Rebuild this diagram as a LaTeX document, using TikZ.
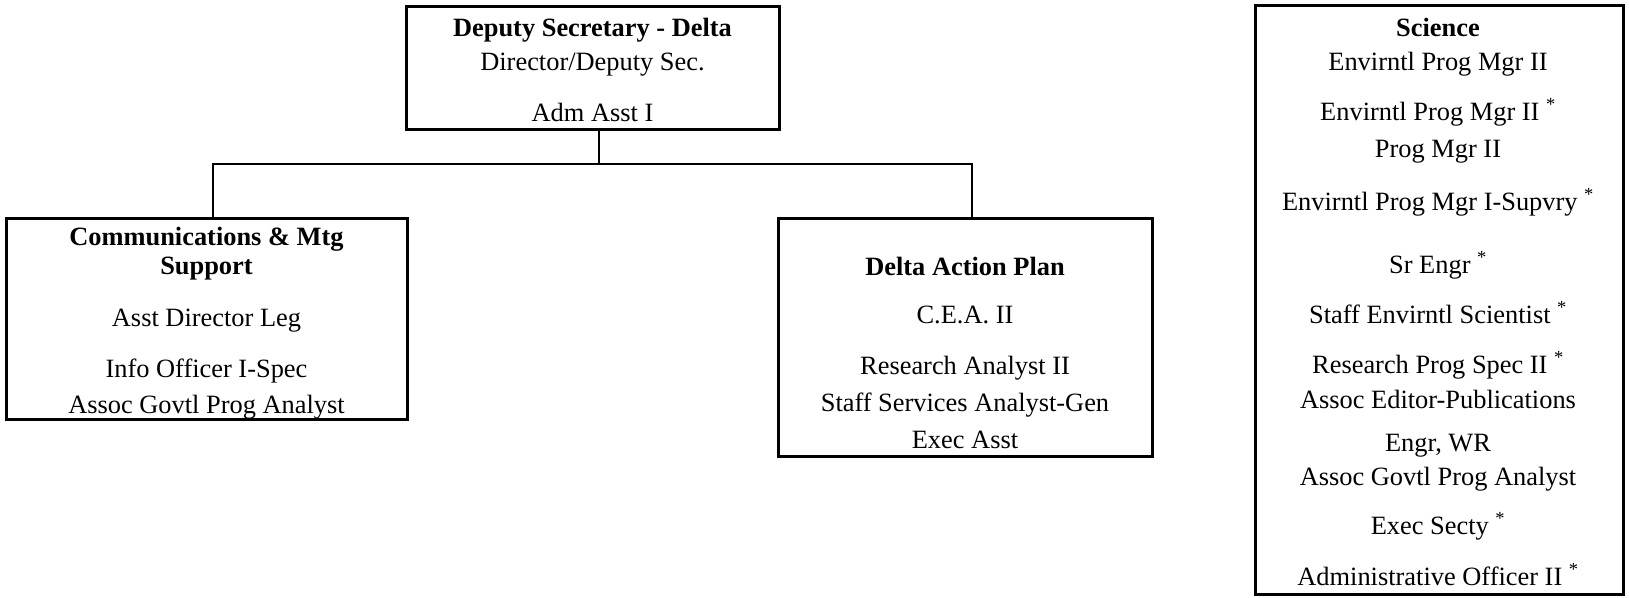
\documentclass[tikz,border=0pt]{standalone}
\usepackage{fontspec}
\setmainfont{Liberation Serif}
\begin{document}
\begin{tikzpicture}[x=1pt,y=-1pt,
	unit/.style={draw,line width=3pt,inner sep=0pt},
	post/.style={anchor=base,inner sep=0pt,font=\fontsize{26.4}{32}\selectfont},
	link/.style={line width=1.6pt}]
	\useasboundingbox (0,0) rectangle (1629,597);
	
	% boxes
	\node[unit,minimum width=373pt,minimum height=123pt] (deputy) at (592.5,67.5) {};
	\node[unit,minimum width=401pt,minimum height=201pt] (comm) at (206.5,318.5) {};
	\node[unit,minimum width=374pt,minimum height=238pt] (dap) at (965,337) {};
	\node[unit,minimum width=368pt,minimum height=589pt] (sci) at (1439,299.5) {};
	
	% texts
	\foreach \y/\t [count=\i] in {36/{\textbf{Deputy Secretary - Delta}},
		70/{Director/Deputy Sec.}, 121/Adm Asst I}
	\node[post] (dep-\i) at (592.5,\y) {\t};
	
	\foreach \y/\t [count=\i] in {245/{\textbf{Communications \& Mtg}},
		274/{\textbf{Support}}, 326/Asst Director Leg,
		377/Info Officer I-Spec, 413/Assoc Govtl Prog Analyst}
	\node[post] (comm-\i) at (206.5,\y) {\t};
	
	\foreach \y/\t [count=\i] in {275/{\textbf{Delta Action Plan}},
		323/C.E.A. II, 374/Research Analyst II,
		411/Staff Services Analyst-Gen, 448/Exec Asst}
	\node[post] (dap-\i) at (965,\y) {\t};
	
	\foreach \y/\t [count=\i] in {36/{\textbf{Science}},
		70/Envirntl Prog Mgr II,
		120/Envirntl Prog Mgr II \textsuperscript{*},
		157/Prog Mgr II,
		210/Envirntl Prog Mgr I-Supvry \textsuperscript{*},
		273/Sr Engr \textsuperscript{*},
		323/Staff Envirntl Scientist \textsuperscript{*},
		373/Research Prog Spec II \textsuperscript{*},
		408/Assoc Editor-Publications,
		451/{Engr, WR},
		485/Assoc Govtl Prog Analyst,
		534/Exec Secty \textsuperscript{*},
		585/Administrative Officer II \textsuperscript{*}}
	\node[post] (sci-\i) at (1438,\y) {\t};
	
	% connectors
	\coordinate (jl) at (213,164);
	\coordinate (jm) at (599,164);
	\coordinate (jr) at (972,164);
	\draw[link] (deputy.south -| jm) -- (jm);
	\draw[link] (comm.north -| jl) -- (jl) -- (jr) -- (dap.north -| jr);
\end{tikzpicture}
\end{document}
